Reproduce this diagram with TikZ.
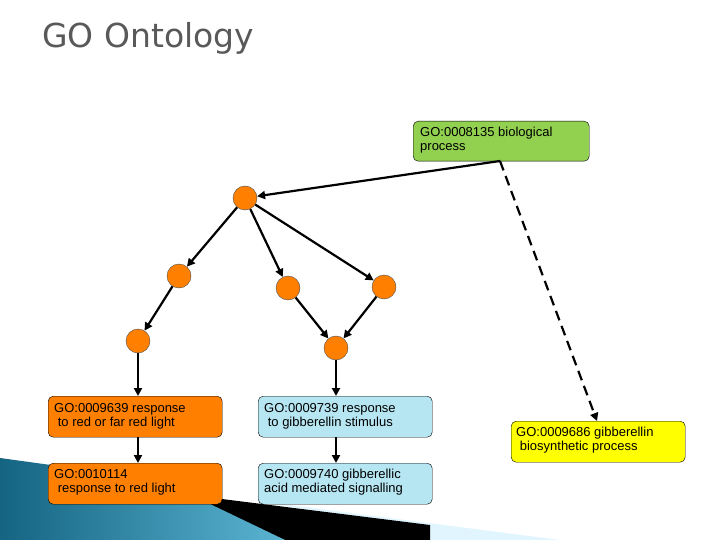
\documentclass[tikz,border=0pt]{standalone}
\usepackage{fontspec}
\setmainfont{Liberation Sans}
\newfontfamily\titlefont{DejaVu Sans}
\usetikzlibrary{arrows.meta}
\definecolor{org}{RGB}{255,128,0}
\definecolor{grn}{RGB}{146,208,80}
\definecolor{blu}{RGB}{183,230,243}
\definecolor{yel}{RGB}{255,255,0}
\definecolor{tealA}{RGB}{20,100,130}
\definecolor{tealB}{RGB}{90,180,210}
\begin{document}
\begin{tikzpicture}[x=1pt,y=-1pt,
 box/.style={draw=black,rounded corners=5pt,minimum width=174pt,minimum height=41pt,anchor=north west,inner sep=0pt},
 lbl/.style={anchor=north west,align=left,font=\fontsize{13}{14}\selectfont,inner sep=0pt},
 dot/.style={circle,draw=black!70,fill=org,minimum size=24pt,inner sep=0pt},
 arr/.style={-{Triangle[length=8pt,width=8pt]},line width=2.2pt},
 dsh/.style={arr,dash pattern=on 10pt off 6pt}]
\useasboundingbox (0,0) rectangle (720,540);
% decoration
\fill[cyan!12] (250,500) -- (560,540) -- (430,540) -- (420,528) -- cycle;
\fill[black] (150,490) -- (430,525) -- (430,540) -- (285,540) -- cycle;
\shade[left color=tealA,right color=tealB] (0,458) -- (160,480) -- (285,540) -- (0,540) -- cycle;
\node[lbl,font=\titlefont\fontsize{33}{33}\selectfont,text=black!65] (title) at (42,22) {GO Ontology};
% boxes
\node[box,fill=grn,minimum width=176pt,minimum height=40pt] (bp) at (413,121) {};
\node[lbl] at (420,127) {GO:0008135 biological\\process};
\node[box,fill=org] (o1) at (48,396) {};
\node[lbl] at (54,403) {GO:0009639 response\\\ to red or far red light};
\node[box,fill=org] (o2) at (48,463) {};
\node[lbl] at (54,469) {GO:0010114\\\ response to red light};
\node[box,fill=blu] (b1) at (258,396) {};
\node[lbl] at (264,403) {GO:0009739 response\\\ to gibberellin stimulus};
\node[box,fill=blu] (b2) at (258,463) {};
\node[lbl] at (264,469) {GO:0009740 gibberellic\\acid mediated signalling};
\node[box,fill=yel] (y) at (511,421) {};
\node[lbl] at (516,427) {GO:0009686 gibberellin\\\ biosynthetic process};
% dots
\node[dot] (c0) at (245,198) {};
\node[dot] (c1) at (179,276) {};
\node[dot] (c2) at (288,288) {};
\node[dot] (c3) at (384,287) {};
\node[dot] (c4) at (138,341) {};
\node[dot] (c5) at (336,348) {};
\coordinate (bpb) at (500,161);
\draw[arr] (bpb) -- (c0);
\draw[dsh] (bpb) -- (597,421);
\draw[arr] (c0) -- (c1);
\draw[arr] (c0) -- (c2);
\draw[arr] (c0) -- (c3);
\draw[arr] (c1) -- (c4);
\draw[arr] (c2) -- (c5);
\draw[arr] (c3) -- (c5);
\draw[arr] (c4) -- (c4 |- o1.north);
\draw[arr] (c5) -- (c5 |- b1.north);
\draw[arr] (o1.south -| c4) -- (o2.north -| c4);
\draw[arr] (b1.south -| c5) -- (b2.north -| c5);
\end{tikzpicture}
\end{document}
